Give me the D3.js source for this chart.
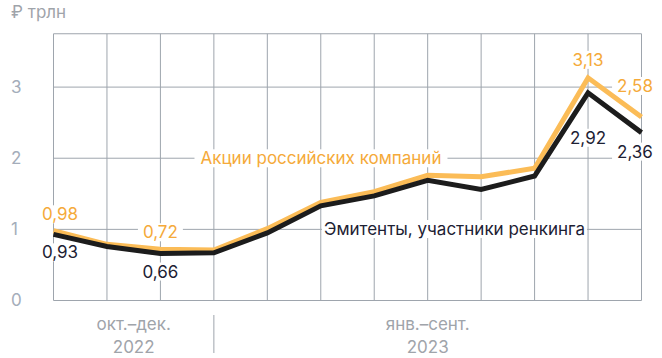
<!DOCTYPE html>
<html><head><meta charset="utf-8">
<script src="https://cdn.jsdelivr.net/npm/d3@7"></script>
<style>
html,body{margin:0;padding:0;background:#fff;}
svg{display:block;font-family:Inter,"Noto Sans",sans-serif;}
</style></head>
<body>
<svg id="chart" width="662" height="358"></svg>
<script>
// ---- data ----
const months = ["окт","ноя","дек","янв","фев","мар","апр","май","июн","июл","авг","сен"];
const sharesValues = [0.98, 0.79, 0.72, 0.71, 1.01, 1.38, 1.53, 1.76, 1.74, 1.86, 3.13, 2.58];
const issuersValues = [0.93, 0.76, 0.66, 0.67, 0.95, 1.33, 1.47, 1.69, 1.56, 1.75, 2.92, 2.36];
const yTicks = [0, 1, 2, 3];
const periodLabels = [["окт.–дек.", "2022"], ["янв.–сент.", "2023"]];
const periodRanges = [[0, 3], [3, 11]];
const labeledIdx = [0, 2, 10, 11];
const seriesNames = ["Акции российских компаний", "Эмитенты, участники ренкинга"];
const unitLabel = "₽ трлн";

// ---- layout ----
const plotL = 53.5, plotR = 641.5, plotT = 33.75, plotB = 300.5;
const yMax = 3.75;
const gold = "#FBBC57", goldText = "#F5AA3A", dark = "#1c1c1c", darkText = "#1d2133";
const gridC = "#9ea5ad", tickC = "#a4adba", catC = "#9fa4aa";
const fs = 17;

const svg = d3.select("#chart");
const x = d3.scalePoint().domain(d3.range(months.length)).range([plotL, plotR]);
const y = d3.scaleLinear().domain([0, yMax]).range([plotB, plotT]);

const gGrid = svg.append("g");
const gBoxes = svg.append("g");
const gLines = svg.append("g");
const gText = svg.append("g");

// grid
gGrid.selectAll(".vg").data(d3.range(months.length)).join("line")
  .attr("x1", d => x(d)).attr("x2", d => x(d)).attr("y1", plotT).attr("y2", plotB)
  .attr("stroke", gridC).attr("stroke-width", 1);
gGrid.selectAll(".hg").data(yTicks.concat([yMax])).join("line")
  .attr("x1", plotL).attr("x2", plotR).attr("y1", d => y(d)).attr("y2", d => y(d))
  .attr("stroke", gridC).attr("stroke-width", 1);

// y tick labels
gText.selectAll(".yt").data(yTicks).join("text")
  .attr("x", 11).attr("y", d => y(d)).attr("dy", "0.35em")
  .attr("fill", tickC).attr("font-size", fs).text(d => d);
gText.append("text").attr("x", 11).attr("y", 18).attr("fill", catC)
  .attr("font-size", fs).text(unitLabel);

// period labels + separator
gGrid.append("line").attr("x1", x(3)).attr("x2", x(3)).attr("y1", 315).attr("y2", 353)
  .attr("stroke", gridC).attr("stroke-width", 1);
periodLabels.forEach((lab, i) => {
  const cx = (x(periodRanges[i][0]) + x(periodRanges[i][1])) / 2;
  const t = gText.append("text").attr("x", cx).attr("text-anchor", "middle")
    .attr("fill", catC).attr("font-size", fs);
  t.append("tspan").attr("x", cx).attr("y", 330).text(lab[0]);
  t.append("tspan").attr("x", cx).attr("y", 353).text(lab[1]);
});

// helper: text with white box (box below lines, text above)
function boxedText(px, py, txt, color, anchor, padX, padY) {
  const t = gText.append("text").attr("x", px).attr("y", py).attr("text-anchor", anchor)
    .attr("fill", color).attr("font-size", fs).text(txt);
  const b = t.node().getBBox();
  gBoxes.append("rect").attr("fill", "#fff")
    .attr("x", b.x - padX).attr("y", b.y - padY + 2)
    .attr("width", b.width + 2 * padX).attr("height", b.height + 2 * padY - 4);
}

// lines
const line = d3.line().x((d, i) => x(i)).y(d => y(d));
gLines.append("path").datum(sharesValues).attr("d", line).attr("fill", "none")
  .attr("stroke", gold).attr("stroke-width", 5).attr("stroke-linejoin", "miter");
gLines.append("path").datum(issuersValues).attr("d", line).attr("fill", "none")
  .attr("stroke", dark).attr("stroke-width", 5).attr("stroke-linejoin", "miter");

// value labels
const fmt = v => v.toFixed(2).replace(".", ",");
const goldOff = {0: [6.5, -10.5], 2: [0, -11], 10: [0, -12], 11: [-6.5, -25]};
const darkOff = {0: [6.5, 24], 2: [0, 24], 10: [0, 51], 11: [-6.5, 25]};
labeledIdx.forEach(i => {
  boxedText(x(i) + goldOff[i][0], y(sharesValues[i]) + goldOff[i][1], fmt(sharesValues[i]), goldText, "middle", 5, 1);
  boxedText(x(i) + darkOff[i][0], y(issuersValues[i]) + darkOff[i][1], fmt(issuersValues[i]), darkText, "middle", 5, 1);
});

// series names
boxedText(200.5, 164.3, seriesNames[0], goldText, "start", 6, 1);
boxedText(324, 235, seriesNames[1], darkText, "start", 2, 1);
</script>
</body></html>
